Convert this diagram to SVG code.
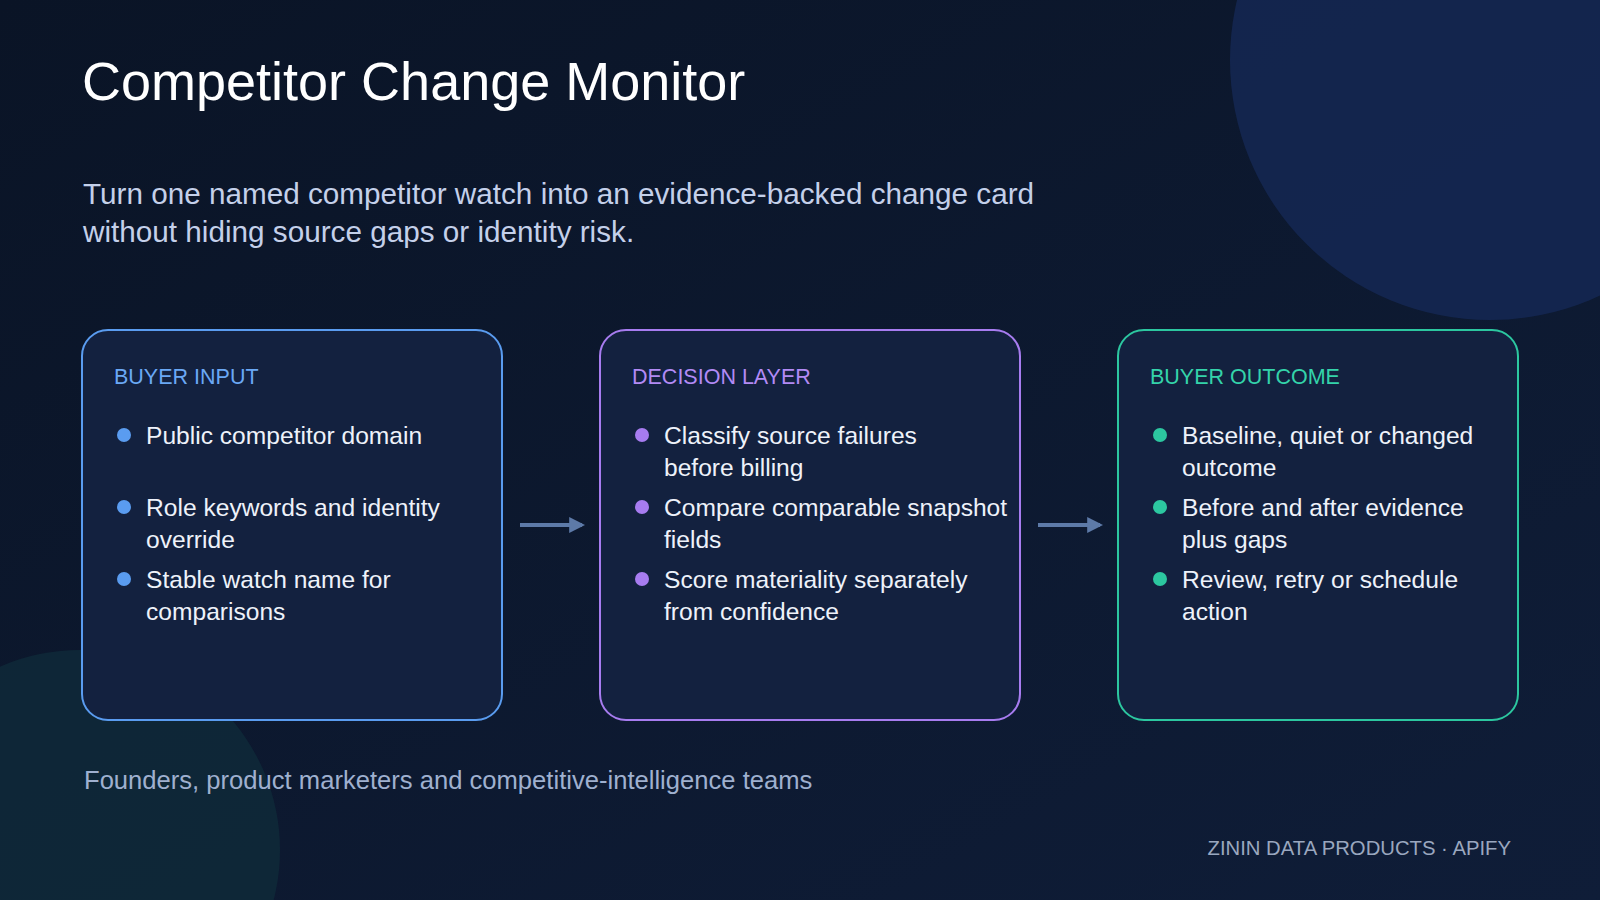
<svg xmlns="http://www.w3.org/2000/svg" width="1600" height="900" viewBox="0 0 1600 900">
<defs>
<linearGradient id="bg" x1="0" y1="0" x2="1" y2="1"><stop offset="0" stop-color="#0a1426"/><stop offset="1" stop-color="#0f1d38"/></linearGradient>
<marker id="ah" viewBox="0 0 10 10" refX="8" refY="5" markerWidth="4" markerHeight="4" orient="auto"><path d="M0,0L10,5L0,10z" fill="#5d7aa8"/></marker>
<style>
text{font-family:"Helvetica Neue","Liberation Sans",Arial,sans-serif}
.card{fill:#13213f;stroke-width:2}
.h{font-size:21.5px}
.b{font-size:24.6px;fill:#eef2fa}
.c{stroke:#5d7aa8;stroke-width:4;fill:none;marker-end:url(#ah)}
</style>
</defs>
<rect width="1600" height="900" fill="url(#bg)"/>
<circle cx="1490" cy="60" r="260" fill="#152a58" opacity="0.75"/>
<circle cx="80" cy="850" r="200" fill="#0f2a3a" opacity="0.8"/>
<text x="82" y="100" font-size="54" fill="#ffffff">Competitor Change Monitor</text>
<text font-size="29.7" fill="#c4d0ea"><tspan x="83" y="204">Turn one named competitor watch into an evidence-backed change card</tspan><tspan x="83" y="242">without hiding source gaps or identity risk.</tspan></text>
<g id="input">
<rect class="card" x="82" y="330" width="420" height="390" rx="26" stroke="#5a9cf0"/>
<text class="h" x="114" y="384" fill="#6aa8f5">BUYER INPUT</text>
<g fill="#5a9cf0"><circle cx="124" cy="435" r="7"/><circle cx="124" cy="507" r="7"/><circle cx="124" cy="579" r="7"/></g>
<text class="b"><tspan x="146" y="444">Public competitor domain</tspan><tspan x="146" y="516">Role keywords and identity</tspan><tspan x="146" y="548">override</tspan><tspan x="146" y="588">Stable watch name for</tspan><tspan x="146" y="620">comparisons</tspan></text>
</g>
<g id="decision">
<rect class="card" x="600" y="330" width="420" height="390" rx="26" stroke="#a77cf0"/>
<text class="h" x="632" y="384" fill="#b28af5">DECISION LAYER</text>
<g fill="#a77cf0"><circle cx="642" cy="435" r="7"/><circle cx="642" cy="507" r="7"/><circle cx="642" cy="579" r="7"/></g>
<text class="b"><tspan x="664" y="444">Classify source failures</tspan><tspan x="664" y="476">before billing</tspan><tspan x="664" y="516">Compare comparable snapshot</tspan><tspan x="664" y="548">fields</tspan><tspan x="664" y="588">Score materiality separately</tspan><tspan x="664" y="620">from confidence</tspan></text>
</g>
<g id="outcome">
<rect class="card" x="1118" y="330" width="400" height="390" rx="26" stroke="#2cc7a0"/>
<text class="h" x="1150" y="384" fill="#34d3aa">BUYER OUTCOME</text>
<g fill="#2cc7a0"><circle cx="1160" cy="435" r="7"/><circle cx="1160" cy="507" r="7"/><circle cx="1160" cy="579" r="7"/></g>
<text class="b"><tspan x="1182" y="444">Baseline, quiet or changed</tspan><tspan x="1182" y="476">outcome</tspan><tspan x="1182" y="516">Before and after evidence</tspan><tspan x="1182" y="548">plus gaps</tspan><tspan x="1182" y="588">Review, retry or schedule</tspan><tspan x="1182" y="620">action</tspan></text>
</g>
<g id="connectors">
<line class="c" x1="520" y1="525" x2="582" y2="525"/>
<line class="c" x1="1038" y1="525" x2="1100" y2="525"/>
</g>
<text x="84" y="789" font-size="25.6" fill="#9fb0cf">Founders, product marketers and competitive-intelligence teams</text>
<text x="1511" y="855" font-size="20.3" fill="#9aa7bf" text-anchor="end">ZININ DATA PRODUCTS · APIFY</text>
</svg>
